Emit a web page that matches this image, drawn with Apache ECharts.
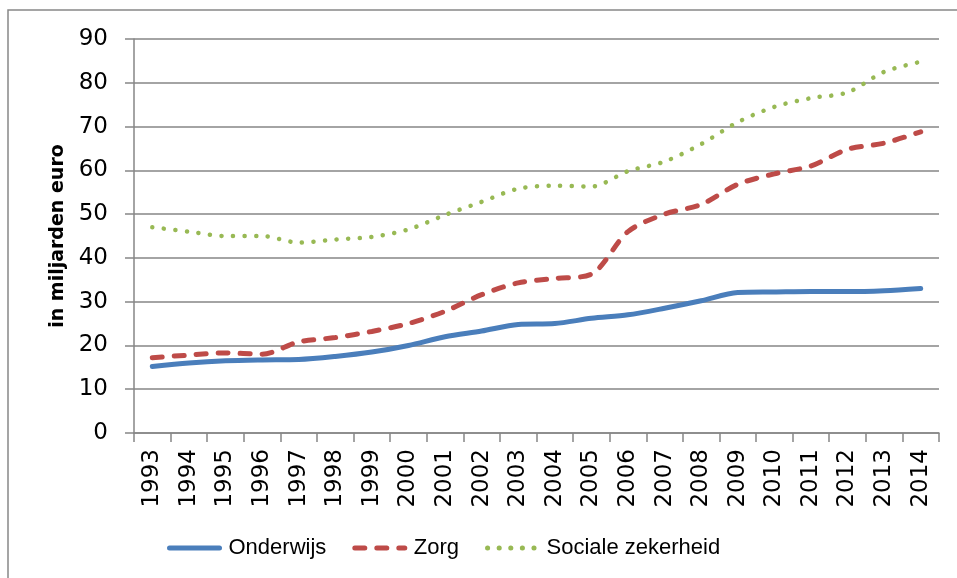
<!DOCTYPE html>
<html>
<head>
<meta charset="utf-8">
<script src="https://cdn.jsdelivr.net/npm/echarts@6/dist/echarts.min.js"></script>
<style>
    html, body { margin: 0; padding: 0; background: #fff; }
    #chart { width: 957px; height: 578px; }
</style>
</head>
<body>
<div id="chart"></div>
<script>
const years = ['1993', '1994', '1995', '1996', '1997', '1998', '1999', '2000', '2001', '2002', '2003',
    '2004', '2005', '2006', '2007', '2008', '2009', '2010', '2011', '2012', '2013', '2014']
const onderwijs = [15.2, 16, 16.5, 16.7, 16.8, 17.5, 18.5, 20, 22, 23.3, 24.8,
    25, 26.2, 27, 28.5, 30.2, 32.1, 32.2, 32.3, 32.3, 32.5, 33]
const zorg = [17.2, 17.8, 18.3, 18, 20.8, 21.8, 23.2, 25, 27.8, 31.6, 34.3,
    35.3, 36.3, 46, 50, 52.2, 56.8, 59.2, 61, 64.8, 66.2, 68.8]
const sociale = [47, 46, 45, 45, 43.5, 44.2, 44.8, 46.5, 49.8, 52.8, 55.8,
    56.5, 56.3, 59.8, 62, 66, 71, 74.5, 76.5, 77.8, 82.5, 84.8]
const yTicks = [0, 10, 20, 30, 40, 50, 60, 70, 80, 90]

const gray = '#868686'
const tickFont = '"DejaVu Sans", Verdana, sans-serif'
const legendFont = '"Liberation Sans", Arial, sans-serif'

const chart = echarts.init(document.getElementById('chart'))

const lineSeries = (name, data, color, type, width) => ({
    name,
    type: 'line',
    data,
    smooth: 0.3,
    symbol: 'none',
    lineStyle: { color, width, type, cap: 'round' },
    itemStyle: { color },
})

chart.setOption({
    animation: false,
    graphic: [
        {
            type: 'rect',
            shape: { x: 8, y: 10, width: 960, height: 580 },
            style: { fill: 'none', stroke: '#888', lineWidth: 1.5 },
        },
    ],
    grid: { left: 134, right: 18, top: 39, bottom: 145 },
    legend: {
        left: 162,
        top: 532,
        itemWidth: 50,
        itemHeight: 14,
        itemGap: 26,
        itemStyle: { opacity: 0 },
        lineStyle: { width: 5, cap: 'round' },
        textStyle: { fontFamily: legendFont, fontSize: 22, color: '#000', padding: [0, 0, 0, 4] },
        data: ['Onderwijs', 'Zorg', 'Sociale zekerheid'],
    },
    xAxis: {
        type: 'category',
        data: years,
        boundaryGap: true,
        axisLine: { lineStyle: { color: gray, width: 1.5 } },
        axisTick: { show: true, length: 9, interval: 0, lineStyle: { color: gray, width: 1.5 } },
        axisLabel: {
            interval: 0,
            rotate: 90,
            margin: 16,
            fontFamily: tickFont,
            fontSize: 23,
            color: '#000',
        },
    },
    yAxis: {
        type: 'value',
        min: yTicks[0],
        max: yTicks[yTicks.length - 1],
        interval: 10,
        name: 'in miljarden euro',
        nameLocation: 'middle',
        nameGap: 63,
        nameTextStyle: { fontFamily: tickFont, fontWeight: 'bold', fontSize: 19, color: '#000' },
        axisLine: { show: true, lineStyle: { color: gray, width: 1.5 } },
        axisTick: { show: true, length: 9, lineStyle: { color: gray, width: 1.5 } },
        axisLabel: { margin: 26, fontFamily: tickFont, fontSize: 23, color: '#000' },
        splitLine: { lineStyle: { color: gray, width: 1.5 } },
    },
    series: [
        lineSeries('Onderwijs', onderwijs, '#4a7ebb', 'solid', 5),
        lineSeries('Zorg', zorg, '#be4b48', [10, 12], 5),
        lineSeries('Sociale zekerheid', sociale, '#98b954', [0.1, 11.5], 4.5),
    ],
})
</script>
</body>
</html>
